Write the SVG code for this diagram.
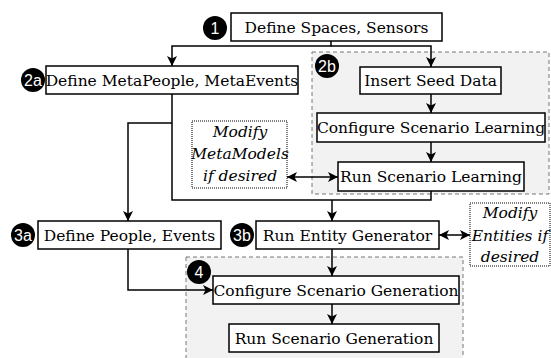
<svg xmlns="http://www.w3.org/2000/svg" width="551" height="358" viewBox="0 0 551 358">
<style>
.box{fill:#fff;stroke:#000;stroke-width:1.5}
.grp{fill:#f2f2f2;stroke:#777;stroke-width:1;stroke-dasharray:4,3}
.note{fill:#fff;stroke:#000;stroke-width:1;stroke-dasharray:1,1}
.t{font-family:"DejaVu Serif","Liberation Serif",serif;font-size:15.5px;fill:#000;text-anchor:middle}
.i{font-style:italic}
.bd{fill:#000}
.bt{font-family:"Liberation Sans",Arial,sans-serif;font-size:16px;fill:#fff;text-anchor:middle}
.c{fill:none;stroke:#000;stroke-width:1.5}
</style>
<defs>
<marker id="ah" viewBox="0 0 10 10" refX="10" refY="5" markerWidth="10" markerHeight="10" markerUnits="userSpaceOnUse" orient="auto-start-reverse">
<path d="M0,0 L10,5 L0,10 L2.5,5 z" fill="#000"/>
</marker>
</defs>
<rect class="grp" x="312" y="52" width="237" height="142"/>
<rect class="grp" x="186" y="257" width="277" height="110"/>
<g id="connectors">
<path class="c" d="M331,41 V46 H172 V66" marker-end="url(#ah)"/>
<path class="c" d="M331,46 H431 V67" marker-end="url(#ah)"/>
<path class="c" d="M431,94 V113" marker-end="url(#ah)"/>
<path class="c" d="M431,142 V162" marker-end="url(#ah)"/>
<path class="c" d="M172,94 V200 H431 V191"/>
<path class="c" d="M172,123 H128 V221" marker-end="url(#ah)"/>
<path class="c" d="M332,200 V221" marker-end="url(#ah)"/>
<path class="c" d="M287,177 H338" marker-start="url(#ah)" marker-end="url(#ah)"/>
<path class="c" d="M439,235 H470" marker-start="url(#ah)" marker-end="url(#ah)"/>
<path class="c" d="M332,249 V276" marker-end="url(#ah)"/>
<path class="c" d="M128,249 V290 H213" marker-end="url(#ah)"/>
<path class="c" d="M332,304 V324" marker-end="url(#ah)"/>
</g>
<g id="n1">
<rect class="box" x="231" y="13" width="211" height="28"/>
<text class="t" x="336.5" y="32.5">Define Spaces, Sensors</text>
<circle class="bd" cx="215" cy="28" r="12"/>
<text class="bt" x="215" y="33.5">1</text>
</g>
<g id="n2a">
<rect class="box" x="46" y="66" width="252" height="28"/>
<text class="t" x="172" y="85.5">Define MetaPeople, MetaEvents</text>
<circle class="bd" cx="33" cy="80" r="12"/>
<text class="bt" x="33" y="85.5">2a</text>
</g>
<g id="n2b">
<circle class="bd" cx="327" cy="66" r="12"/>
<text class="bt" x="327" y="71.5">2b</text>
</g>
<g id="insert">
<rect class="box" x="360" y="67" width="141" height="27"/>
<text class="t" x="430.5" y="86">Insert Seed Data</text>
</g>
<g id="confLearn">
<rect class="box" x="317" y="113" width="228" height="29"/>
<text class="t" x="431" y="133">Configure Scenario Learning</text>
</g>
<g id="runLearn">
<rect class="box" x="338" y="162" width="186" height="29"/>
<text class="t" x="431" y="182">Run Scenario Learning</text>
</g>
<g id="modMeta">
<rect class="note" x="192" y="121" width="95" height="67"/>
<text class="t i" x="240" y="136.5">Modify</text>
<text class="t i" x="240" y="158.5">MetaModels</text>
<text class="t i" x="240" y="180.5">if desired</text>
</g>
<g id="n3a">
<rect class="box" x="38" y="221" width="183" height="28"/>
<text class="t" x="129.5" y="240.5">Define People, Events</text>
<circle class="bd" cx="23" cy="235" r="12"/>
<text class="bt" x="23" y="240.5">3a</text>
</g>
<g id="n3b">
<rect class="box" x="256" y="221" width="183" height="28"/>
<text class="t" x="347.5" y="240.5">Run Entity Generator</text>
<circle class="bd" cx="242" cy="235" r="12"/>
<text class="bt" x="242" y="240.5">3b</text>
</g>
<g id="modEnt">
<rect class="note" x="470" y="203" width="80" height="63"/>
<text class="t i" x="510" y="218">Modify</text>
<text class="t i" x="510" y="240.5">Entities if</text>
<text class="t i" x="510" y="262">desired</text>
</g>
<g id="n4">
<circle class="bd" cx="199" cy="272" r="12"/>
<text class="bt" x="199" y="277.5">4</text>
</g>
<g id="confGen">
<rect class="box" x="213" y="276" width="246" height="28"/>
<text class="t" x="336" y="295.5">Configure Scenario Generation</text>
</g>
<g id="runGen">
<rect class="box" x="229" y="324" width="210" height="28"/>
<text class="t" x="334" y="343.5">Run Scenario Generation</text>
</g>
</svg>
